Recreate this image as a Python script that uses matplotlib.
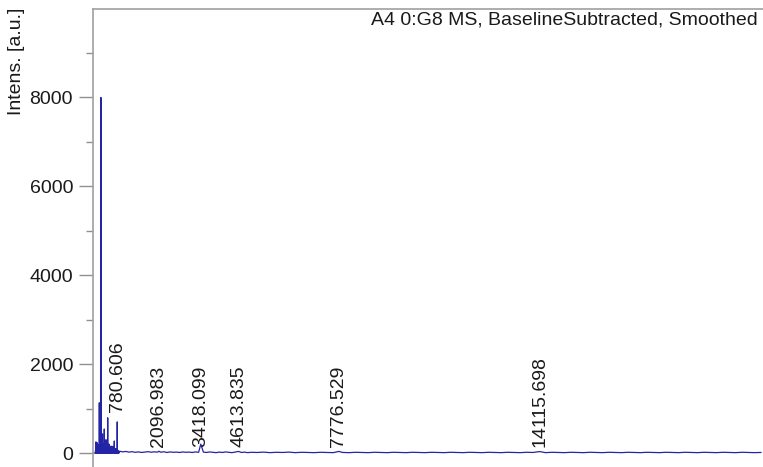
import matplotlib
matplotlib.use("Agg")
import matplotlib.pyplot as plt
from matplotlib.ticker import FixedLocator

plt.rcParams['font.family'] = ['Liberation Sans', 'DejaVu Sans']

# ---- data ----
# low-mass cluster peaks: m/z, intensity
cluster_mz = [95, 110, 125, 150, 180, 215, 240, 258, 265, 272, 290, 315, 345, 372, 400, 426, 455, 480, 505, 520, 550, 584, 615, 647, 688, 715, 742, 760, 780.606, 800, 830]
cluster_int = [60, 250, 120, 230, 180, 1130, 300, 5150, 8000, 5900, 350, 430, 200, 540, 180, 300, 250, 793, 180, 200, 120, 157, 90, 150, 270, 90, 100, 70, 700, 60, 40]

# baseline noise beyond the cluster: m/z, intensity
base_mz = [860, 950, 1050, 1150, 1250, 1350, 1450, 1550, 1650, 1750, 1850, 1950, 2050,
           2096.983, 2150, 2250, 2350, 2450, 2550, 2650, 2750, 2850, 2950, 3050, 3150,
           3250, 3350, 3418.099, 3500, 3600, 3700, 3800, 3900, 4000, 4100, 4200, 4300,
           4400, 4500, 4613.835, 4700, 4800, 4900, 5000, 5200, 5400, 5600, 5800, 6000,
           6200, 6400, 6600, 6800, 7000, 7200, 7400, 7600, 7776.529, 7900, 8100, 8300,
           8500, 8700, 8900, 9100, 9300, 9500, 9700, 9900, 10100, 10300, 10500, 10700,
           10900, 11100, 11300, 11500, 11700, 11900, 12100, 12300, 12500, 12700, 12900,
           13100, 13300, 13500, 13700, 13900, 14115.698, 14300, 14500, 14700, 14900,
           15100, 15300, 15500, 15700, 15900, 16100, 16300, 16500, 16700, 16900, 17100,
           17300, 17500, 17700, 17900, 18100, 18300, 18500, 18700, 18900, 19100, 19300,
           19500, 19700, 19900, 20100, 20300, 20500, 20700, 20900, 21100]
base_int = [40, 25, 35, 20, 30, 15, 25, 12, 22, 30, 18, 26, 20,
            40, 18, 28, 12, 24, 16, 20, 12, 24, 16, 20, 12,
            24, 16, 200, 20, 12, 24, 16, 8, 20, 12, 24,
            16, 8, 20, 35, 12, 20, 8, 16, 12, 20, 8, 16, 12,
            20, 8, 16, 12, 8, 16, 12, 8, 35, 12, 8, 16,
            12, 8, 16, 12, 8, 16, 12, 8, 16, 12, 8, 16,
            12, 8, 16, 12, 8, 16, 12, 8, 16, 12, 8,
            16, 12, 8, 16, 12, 32, 8, 16, 12, 8,
            16, 12, 8, 16, 12, 8, 16, 12, 8, 16, 12,
            8, 16, 12, 8, 16, 12, 8, 16, 12, 8, 16,
            12, 8, 16, 12, 8, 16, 12, 8, 12]

peak_labels = ["780.606", "2096.983", "3418.099", "4613.835", "7776.529", "14115.698"]
label_mz = [780.606, 2096.983, 3418.099, 4613.835, 7776.529, 14115.698]
label_y = [920, 135, 135, 135, 135, 135]

title = "A4 0:G8 MS, BaselineSubtracted, Smoothed"
y_major = [0, 2000, 4000, 6000, 8000]
y_minor = [1000, 3000, 5000, 7000, 9000]

# ---- build stick-like spectrum trace ----
xs, ys = [0, 80], [0, 0]
for m, v in zip(cluster_mz, cluster_int):
    xs += [m - 3, m, m + 3]
    ys += [0, v, 0]
xs += base_mz
ys += base_int

W, H = 763, 467
fig = plt.figure(figsize=(W / 100, H / 100), dpi=100)
left = 92.5 / W
top_px = 8.6
ax = fig.add_axes([left, 0, 1 - left, (H - top_px) / H])
ax.plot(xs, ys, color='#2424a6', lw=0.9)

ax.set_xlim(0, (W - 92.5) / 0.03168)
ax.set_ylim(-315, 10000)

for s in ['right', 'bottom']:
    ax.spines[s].set_visible(False)
for s in ['left', 'top']:
    ax.spines[s].set_color('#a0a0a0')
    ax.spines[s].set_linewidth(1.2)

ax.set_xticks([])
ax.yaxis.set_major_locator(FixedLocator(y_major))
ax.yaxis.set_minor_locator(FixedLocator(y_minor))
ax.tick_params(axis='y', which='major', direction='out', length=10, width=1,
               color='#909090', labelsize=14, labelcolor='#1a1a1a', pad=4)
ax.tick_params(axis='y', which='minor', direction='out', length=5, width=1,
               color='#909090')

for lab, m, yv in zip(peak_labels, label_mz, label_y):
    ax.text(m, yv, lab, rotation=90, ha='center', va='bottom', fontsize=14,
            color='#1a1a1a')

fig.text(758 / W, 1 - 20 / H, title, ha='right', va='center', fontsize=14,
         color='#1a1a1a')
fig.text(17 / W, 1 - 8 / H, 'Intens. [a.u.]', rotation=90, ha='center',
         va='top', fontsize=14, color='#1a1a1a')

fig.savefig('out.png', dpi=100)
